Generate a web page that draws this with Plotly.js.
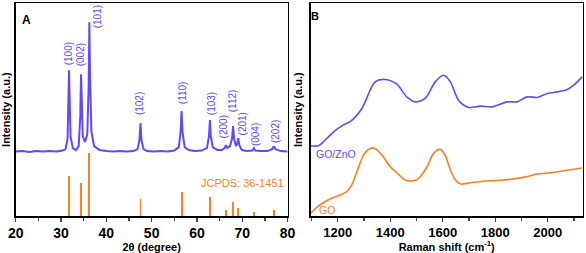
<!DOCTYPE html>
<html>
<head>
<meta charset="utf-8">
<script src="https://cdn.plot.ly/plotly-3.0.1.min.js"></script>
<style>
  html, body { margin: 0; padding: 0; background: #ffffff; }
  #chart { width: 586px; height: 253px; }
</style>
</head>
<body>
<div id="chart"></div>
<script>
// XRD pattern (panel A), intensity in arbitrary units
var xrd_2theta = [20, 21.5, 23, 24.5, 26, 27.5, 29, 30.3, 31.0, 31.45, 31.65, 31.77, 31.9, 32.1, 32.6, 33.3,
  33.9, 34.25, 34.42, 34.55, 34.8, 35.3, 35.8, 36.1, 36.25, 36.4, 36.7, 37.3, 38.5, 40, 41.5, 43, 44.5, 46,
  46.9, 47.3, 47.54, 47.75, 48.2, 49, 50.5, 52, 53.5, 55, 56.0, 56.4, 56.6, 56.8, 57.3, 58.2, 59.5, 61,
  62.2, 62.65, 62.86, 63.05, 63.5, 64.5, 65.5, 66.1, 66.38, 66.7, 67.3, 67.75, 67.96, 68.2, 68.6, 68.85,
  69.1, 69.35, 69.9, 71, 72.2, 72.56, 72.9, 74, 75.5, 76.6, 76.95, 77.3, 78.5, 80];
var xrd_int = [64.5, 65, 64, 65, 64.5, 65, 64.5, 65.5, 67, 78, 120, 146, 118, 80, 68, 66,
  70, 100, 142, 112, 80, 74, 82, 130, 194, 140, 85, 70, 66, 65, 64.5, 65, 64.5, 65,
  67, 76, 93, 76, 67, 65, 64.5, 65, 64.5, 65.5, 69, 85, 105, 84, 69, 66, 65, 65.5,
  68, 80, 96, 80, 69, 66, 66, 68, 71, 68, 70, 78, 90, 77, 70, 72,
  78, 71, 66, 65, 65.5, 68, 65.5, 65, 65, 67, 70, 67, 65, 64.5];

// JCPDS 36-1451 reference lines
var ref_2theta = [31.77, 34.42, 36.25, 47.54, 56.6, 62.86, 66.38, 67.96, 69.1, 72.56, 76.95];
var ref_int = [40, 33, 63, 17, 24, 19, 6, 14, 8, 4, 6];

// peak labels
var hkl_text = ['(100)', '(002)', '(101)', '(102)', '(110)', '(103)', '(200)', '(112)', '(201)', '(004)', '(202)'];
var hkl_x = [31.55, 34.2, 37.95, 47.2, 56.7, 63.1, 65.8, 67.75, 70.0, 72.8, 77.2];
var hkl_y = [162, 161, 199, 113, 123, 112, 89, 115, 92, 82, 85];

// Raman spectra (panel B)
var goz_shift = [1097, 1126, 1145, 1171, 1196, 1221, 1250, 1292, 1342, 1381, 1425, 1463, 1495, 1533, 1571,
  1603, 1629, 1660, 1699, 1743, 1788, 1845, 1883, 1921, 1960, 1998, 2036, 2074, 2099, 2131];
var goz_int = [70.3, 70.3, 74.3, 81, 86.7, 91, 95, 107.7, 134.3, 136.7, 132, 119.3, 114.3, 117.7, 134.3,
  141, 134.3, 116, 108.7, 110, 109.3, 114.3, 114.3, 119.3, 118.7, 122.7, 124.3, 126.7, 131, 139.3];

var go_shift = [1097, 1120, 1145, 1177, 1209, 1234, 1253, 1273, 1298, 1323, 1342, 1368, 1400, 1425, 1457,
  1482, 1508, 1540, 1565, 1590, 1609, 1629, 1648, 1667, 1705, 1781, 1832, 1908, 1960, 2010, 2061, 2131];
var go_int = [2.7, 8.7, 13.3, 17.7, 21, 24.3, 31, 44.3, 61, 67.7, 67.7, 61, 49.3, 43.3, 36,
  35, 37.7, 49.3, 62.7, 66.7, 61, 46, 36, 32, 33.3, 35.3, 36, 38.7, 42, 43.3, 45.3, 48];

var blue = '#6248ff';
var orange = '#ff7f1e';
var fontFam = 'Arial, "Liberation Sans", sans-serif';

var traces = [
  {
    x: xrd_2theta, y: xrd_int, type: 'scatter', mode: 'lines',
    line: { color: blue, width: 2 }, xaxis: 'x', yaxis: 'y', hoverinfo: 'skip'
  },
  {
    x: ref_2theta, y: ref_int, type: 'bar', width: 0.42,
    marker: { color: orange, line: { width: 0 } }, xaxis: 'x', yaxis: 'y'
  },
  {
    x: goz_shift, y: goz_int, type: 'scatter', mode: 'lines',
    line: { color: blue, width: 1.6, shape: 'spline', smoothing: 0.8 }, xaxis: 'x2', yaxis: 'y2'
  },
  {
    x: go_shift, y: go_int, type: 'scatter', mode: 'lines',
    line: { color: orange, width: 1.6, shape: 'spline', smoothing: 0.8 }, xaxis: 'x2', yaxis: 'y2'
  }
];

var annotations = [];
for (var i = 0; i < hkl_text.length; i++) {
  annotations.push({
    x: hkl_x[i], y: hkl_y[i], xref: 'x', yref: 'y', text: hkl_text[i], textangle: -90,
    showarrow: false, xanchor: 'center', yanchor: 'middle',
    font: { family: fontFam, size: 10, color: blue }
  });
}
annotations.push(
  { x: 69.98, y: 33, xref: 'x', yref: 'y', text: 'JCPDS: 36-1451', showarrow: false,
    font: { family: fontFam, size: 11, color: orange } },
  { x: 1194, y: 62, xref: 'x2', yref: 'y2', text: 'GO/ZnO', showarrow: false,
    font: { family: fontFam, size: 10.5, color: blue } },
  { x: 1159, y: 6, xref: 'x2', yref: 'y2', text: 'GO', showarrow: false,
    font: { family: fontFam, size: 10.5, color: orange } },
  { x: 20 / 586, y: 1 - 11 / 253, xref: 'paper', yref: 'paper', text: '<b>A</b>', showarrow: false,
    font: { family: fontFam, size: 12, color: 'black' } },
  { x: 315 / 586, y: 1 - 8 / 253, xref: 'paper', yref: 'paper', text: '<b>B</b>', showarrow: false,
    font: { family: fontFam, size: 11, color: 'black' } }
);

var axisFrame = {
  showline: true, mirror: true, linecolor: 'black', linewidth: 1.5,
  showgrid: false, zeroline: false
};

var layout = {
  width: 586, height: 253,
  margin: { l: 0, r: 0, t: 0, b: 0 },
  paper_bgcolor: 'white', plot_bgcolor: 'white',
  showlegend: false,
  bargap: 0,
  font: { family: fontFam, color: 'black' },
  xaxis: Object.assign({}, axisFrame, {
    domain: [15.7 / 586, 287.6 / 586], range: [20, 80], dtick: 10,
    ticks: 'outside', ticklen: 4, tickwidth: 1.2,
    minor: { dtick: 5, ticks: 'outside', ticklen: 3, tickwidth: 1.2 },
    tickfont: { family: fontFam, size: 14, color: 'black', weight: 'bold' },
    title: { text: '<b>2θ (degree)</b>', font: { family: fontFam, size: 11 }, standoff: 2 }
  }),
  yaxis: Object.assign({}, axisFrame, {
    domain: [37 / 253, 249.7 / 253], range: [0, 213], showticklabels: false, ticks: '',
    title: { text: '<b>Intensity (a.u.)</b>', font: { family: fontFam, size: 11 }, standoff: 4 }
  }),
  xaxis2: Object.assign({}, axisFrame, {
    domain: [310.7 / 586, 582.7 / 586], range: [1097, 2133], dtick: 200, tick0: 1000,
    ticks: 'outside', ticklen: 4, tickwidth: 1.2,
    minor: { dtick: 100, ticks: 'outside', ticklen: 3, tickwidth: 1.2 },
    tickfont: { family: fontFam, size: 13, color: 'black', weight: 'bold' },
    title: { text: '<b>Raman shift (cm<sup>-1</sup>)</b>', font: { family: fontFam, size: 11 }, standoff: 2 },
    anchor: 'y2'
  }),
  yaxis2: Object.assign({}, axisFrame, {
    domain: [37 / 253, 249.7 / 253], range: [0, 213], showticklabels: false, ticks: '',
    title: { text: '<b>Intensity (a.u.)</b>', font: { family: fontFam, size: 11 }, standoff: 4 },
    anchor: 'x2'
  }),
  annotations: annotations
};

Plotly.newPlot('chart', traces, layout, { displayModeBar: false, staticPlot: true });
</script>
</body>
</html>
